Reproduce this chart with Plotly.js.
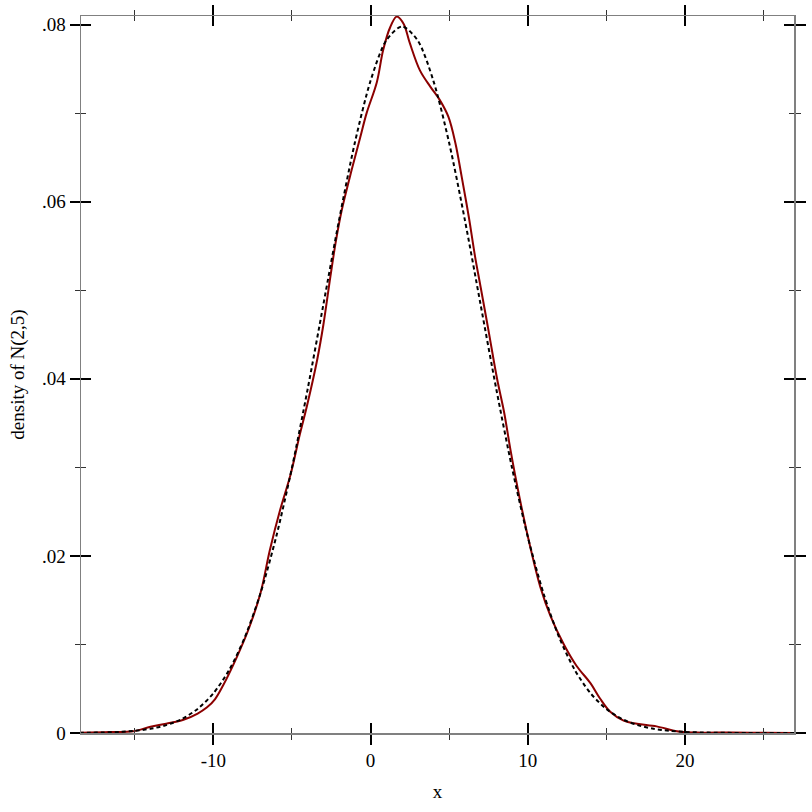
<!DOCTYPE html>
<html>
<head>
<meta charset="utf-8">
<script src="https://cdn.plot.ly/plotly-3.0.1.min.js"></script>
<style>html,body{margin:0;padding:0;background:#fff;}</style>
</head>
<body>
<div id="chart" style="width:812px;height:812px;"></div>
<script>
// Sample kernel density estimate (red solid curve)
const kdeX = [-18.5, -16.6, -15.1, -14.0, -13.0, -11.9, -11.0, -10.4, -9.9, -9.4, -8.5, -7.7, -7.0, -6.4, -5.75, -5.1, -4.5, -4.05, -3.4, -3.0, -2.55, -2.2, -1.85, -1.2, -0.65, -0.25, 0.4, 0.8, 1.25, 1.67, 2.1, 2.5, 3.15, 3.8, 4.4, 4.95, 5.4, 5.8, 6.25, 6.65, 7.0, 7.5, 8.05, 8.5, 8.9, 9.5, 10.15, 10.8, 11.45, 12.3, 13.1, 14.0, 14.6, 15.25, 16.1, 16.95, 18.2, 19.3, 19.9, 21, 23, 25, 27];
const kdeY = [0.00002, 0.0001, 0.0002, 0.0007, 0.00105, 0.0015, 0.0022, 0.0029, 0.0038, 0.0053, 0.0086, 0.0120, 0.0158, 0.0207, 0.0252, 0.0291, 0.0337, 0.0369, 0.0421, 0.0461, 0.0516, 0.0556, 0.0589, 0.0636, 0.0673, 0.0700, 0.0735, 0.0771, 0.0797, 0.0809, 0.0801, 0.0779, 0.0748, 0.0730, 0.0715, 0.0696, 0.0666, 0.0628, 0.0583, 0.0538, 0.0504, 0.0455, 0.0400, 0.0362, 0.0320, 0.0264, 0.0211, 0.0165, 0.0132, 0.0100, 0.0076, 0.0056, 0.0039, 0.0024, 0.0014, 0.00105, 0.00075, 0.00026, 0.0001, 0.00004, 0.00005, 0.00002, 0.0];

// Density of N(2,5) (black dotted curve)
const pdfX = [-18.5, -18, -17, -16, -15, -14, -13, -12, -11, -10, -9, -8, -7, -6, -5, -4, -3, -2, -1, 0, 1, 2, 3, 4, 5, 6, 7, 8, 9, 10, 11, 12, 13, 14, 15, 16, 17, 18, 19, 20, 21, 22, 23, 24, 25, 26, 27];
const pdfY = [0.00002, 0.00003, 0.00006, 0.00012, 0.00025, 0.00048, 0.00089, 0.00158, 0.00272, 0.00448, 0.00710, 0.01080, 0.01579, 0.02218, 0.02995, 0.03884, 0.04839, 0.05794, 0.06665, 0.07365, 0.07821, 0.07979, 0.07821, 0.07365, 0.06665, 0.05794, 0.04839, 0.03884, 0.02995, 0.02218, 0.01579, 0.01080, 0.00710, 0.00448, 0.00272, 0.00158, 0.00089, 0.00048, 0.00025, 0.00012, 0.00006, 0.00003, 0.00001, 0.000005, 0.000002, 0.000001, 0.0];

// Axis ticks and labels
const xTickVals = [-10, 0, 10, 20];
const xTickText = ["-10", "0", "10", "20"];
const xMinorVals = [-15, -5, 5, 15, 25];
const yTickVals = [0, 0.02, 0.04, 0.06, 0.08];
const yTickText = ["0", ".02", ".04", ".06", ".08"];
const yMinorVals = [0.01, 0.03, 0.05, 0.07];
const xRange = [-18.42, 26.94];
const yRange = [0, 0.08097];
const xTitle = "x";
const yTitle = "density of N(2,5)";

const font = {family: "Liberation Serif, Times New Roman, serif", size: 19, color: "#000"};

function axisBase(isX, outside) {
  const vals = isX ? xTickVals : yTickVals;
  const txt = isX ? xTickText : yTickText;
  const mvals = isX ? xMinorVals : yMinorVals;
  return {
    range: isX ? xRange : yRange,
    autorange: false,
    showgrid: false,
    zeroline: false,
    showline: true,
    linecolor: "#808080",
    linewidth: 1.5,
    mirror: "ticks",
    ticks: outside ? "outside" : "inside",
    ticklen: 10,
    tickwidth: 2,
    tickcolor: "#000",
    tickmode: "array",
    tickvals: vals,
    ticktext: txt,
    showticklabels: outside,
    tickfont: font,
    minor: {tickmode: "array", tickvals: mvals, ticks: outside ? "outside" : "inside", ticklen: 5, tickwidth: 1, tickcolor: "#333", showgrid: false},
    fixedrange: true
  };
}

const xa = axisBase(true, true);
xa.title = {text: xTitle, font: font, standoff: 14};
const ya = axisBase(false, true);
ya.title = {text: yTitle, font: font, standoff: 12};
const xa2 = axisBase(true, false);
xa2.overlaying = "x"; xa2.anchor = "y2"; xa2.side = "bottom";
const ya2 = axisBase(false, false);
ya2.overlaying = "y"; ya2.anchor = "x2"; ya2.side = "left";

const traces = [
  {x: kdeX, y: kdeY, xaxis: "x", yaxis: "y", type: "scatter", mode: "lines",
   line: {color: "#8b0000", width: 2, shape: "spline", smoothing: 1}, hoverinfo: "skip"},
  {x: pdfX, y: pdfY, xaxis: "x2", yaxis: "y2", type: "scatter", mode: "lines",
   line: {color: "#000", width: 2, dash: "4px,3px", shape: "spline", smoothing: 0.8}, hoverinfo: "skip"}
];

const layout = {
  width: 812, height: 812,
  margin: {l: 81, r: 18.3, t: 15.7, b: 78.7, pad: 0},
  paper_bgcolor: "#fff", plot_bgcolor: "#fff",
  showlegend: false,
  font: font,
  xaxis: xa, yaxis: ya, xaxis2: xa2, yaxis2: ya2
};

Plotly.newPlot("chart", traces, layout, {staticPlot: true, displayModeBar: false});
</script>
</body>
</html>
